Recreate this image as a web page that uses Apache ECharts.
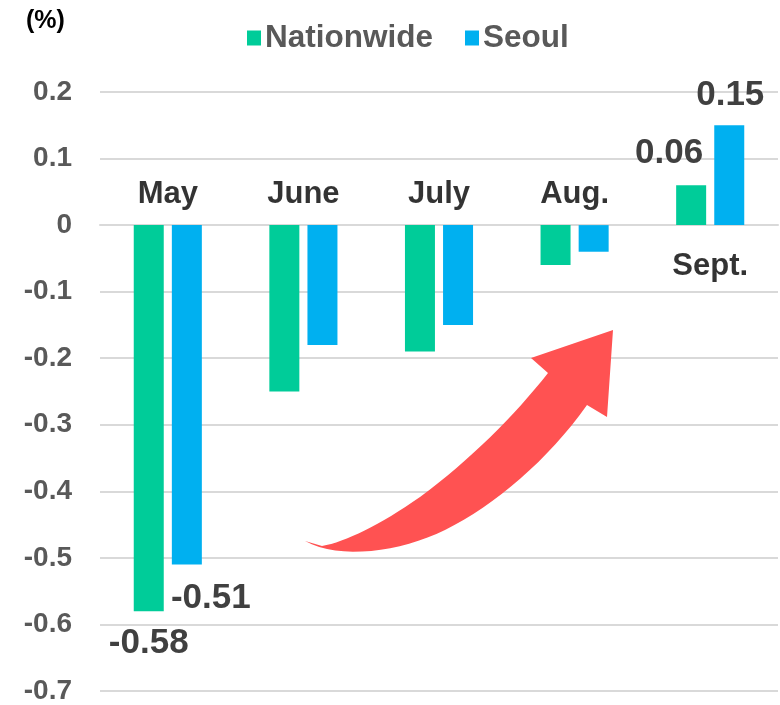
<!DOCTYPE html>
<html>
<head>
<meta charset="utf-8">
<script src="https://cdn.jsdelivr.net/npm/echarts@6/dist/echarts.min.js"></script>
<style>
  html, body { margin: 0; padding: 0; background: #fff; }
  #main { width: 780px; height: 705px; }
</style>
</head>
<body>
<div id="main"></div>
<script>
// Monthly change, %
const months = ["May", "June", "July", "Aug.", "Sept."];
const nationwide = [-0.58, -0.25, -0.19, -0.06, 0.06];
const seoul = [-0.51, -0.18, -0.15, -0.04, 0.15];
// which months get a value label
const labelled = [true, false, false, false, true];

const FONT = "'Liberation Sans', Arial, sans-serif";
const valueLabel = {
  show: true,
  fontFamily: FONT,
  fontSize: 35,
  fontWeight: "bold",
  color: "#404040",
  formatter: (p) => p.value.toFixed(2),
};

// label styles per series, only for the marked months
const greenLabels = { 0: { position: "bottom", distance: 15, offset: [0, 0] }, 4: { position: "top", distance: 14, offset: [-22, 0] } };
const blueLabels = { 0: { position: "bottom", distance: 16, offset: [24, 0] }, 4: { position: "top", distance: 12, offset: [1, 0] } };

function barData(values, styles) {
  return values.map((v, i) => {
    if (!labelled[i]) return v;
    return { value: v, label: Object.assign({}, valueLabel, styles[i]) };
  });
}

// sample a cubic bezier into polygon points (arrow outline, pixels)
function cubic(p0, p1, p2, p3, n) {
  const pts = [];
  for (let k = 0; k <= n; k++) {
    const t = k / n, u = 1 - t;
    pts.push([
      u * u * u * p0[0] + 3 * u * u * t * p1[0] + 3 * u * t * t * p2[0] + t * t * t * p3[0],
      u * u * u * p0[1] + 3 * u * u * t * p1[1] + 3 * u * t * t * p2[1] + t * t * t * p3[1],
    ]);
  }
  return pts;
}
const arrowPts = [].concat(
  cubic([305, 541], [340, 560], [400, 552], [445, 530], 16),
  cubic([445, 530], [495, 505], [548, 460], [587, 405], 16),
  [[607, 417], [613, 330], [531, 358], [548, 373]],
  cubic([548, 373], [515, 415], [470, 460], [420, 497], 16),
  cubic([420, 497], [380, 525], [345, 542], [322, 546], 16)
);

let myChart = echarts.init(document.getElementById("main"));

let options = {
  animation: false,
  grid: { left: 100, right: 2, top: 92, bottom: 14 },
  legend: {
    top: 17,
    left: 242,
    itemWidth: 14,
    itemHeight: 15,
    itemGap: 32,
    icon: "rect",
    textStyle: { fontFamily: FONT, fontSize: 31.5, fontWeight: "bold", color: "#595959", padding: [0, 0, 0, -1] },
    data: ["Nationwide", "Seoul"],
  },
  graphic: [
    {
      type: "text",
      left: 26,
      top: 9,
      style: { text: "(%)", font: "bold 25px " + FONT, fill: "#000" },
    },
    {
      // decorative upward arrow
      type: "polygon",
      silent: true,
      shape: { points: arrowPts },
      style: { fill: "#FF5252" },
      z: 10,
    },
  ],
  xAxis: {
    type: "category",
    data: months,
    axisLine: { show: true, lineStyle: { color: "#d9d9d9", width: 2 } },
    axisTick: { show: false },
    axisLabel: { show: false },
  },
  yAxis: {
    type: "value",
    min: -0.7,
    max: 0.2,
    interval: 0.1,
    axisLine: { show: false },
    axisTick: { show: false },
    splitLine: { lineStyle: { color: "#d9d9d9", width: 2 } },
    axisLabel: {
      margin: 28,
      fontFamily: FONT,
      fontSize: 28,
      fontWeight: "bold",
      color: "#595959",
      formatter: (v) => String(Math.round(v * 10) / 10),
    },
  },
  series: [
    {
      name: "Nationwide",
      type: "bar",
      barWidth: 30,
      barGap: "27%",
      itemStyle: { color: "#00CC99" },
      data: barData(nationwide, greenLabels),
    },
    {
      name: "Seoul",
      type: "bar",
      barWidth: 30,
      itemStyle: { color: "#00B0F0" },
      data: barData(seoul, blueLabels),
    },
    {
      // month names sitting on the zero line
      name: "months",
      type: "scatter",
      symbolSize: 0,
      silent: true,
      z: 5,
      data: months.map((m, i) => ({
        value: [m, 0],
        label: {
          show: true,
          formatter: m,
          position: nationwide[i] < 0 ? "top" : "bottom",
          distance: nationwide[i] < 0 ? 15 : 26,
          fontFamily: FONT,
          fontSize: 31,
          fontWeight: "bold",
          color: "#000",
        },
      })),
    },
  ],
};
myChart.setOption(options);
</script>
</body>
</html>
